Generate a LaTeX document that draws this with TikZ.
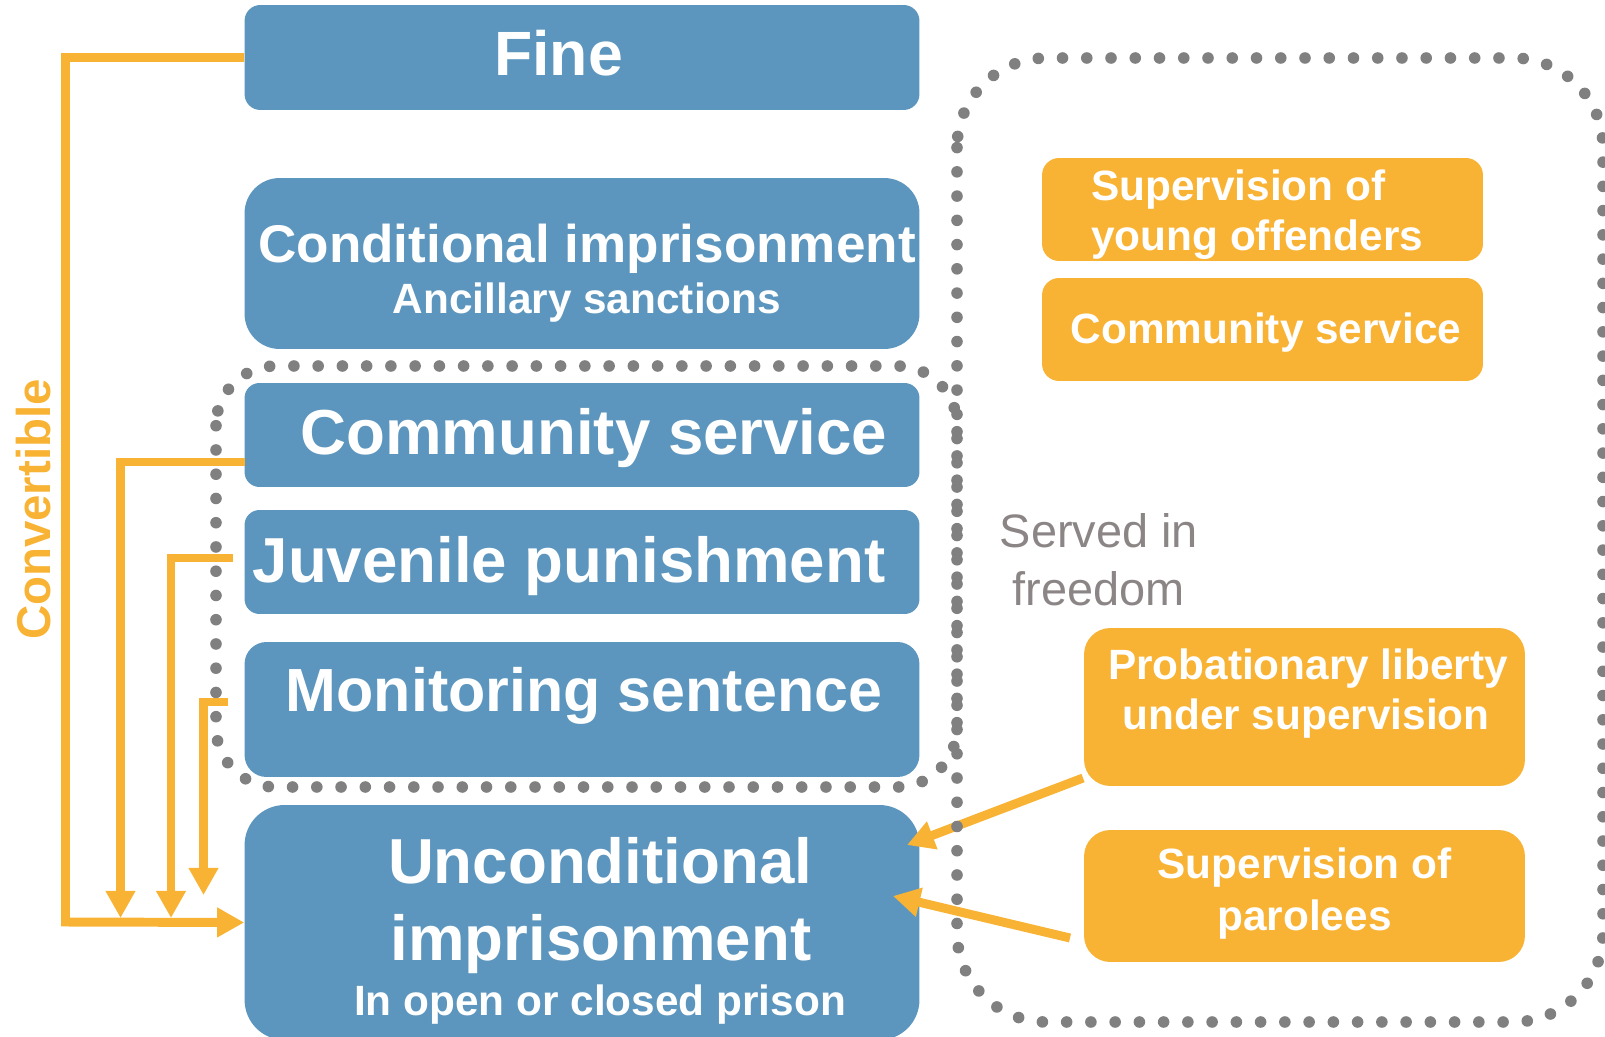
\documentclass[tikz,border=0pt]{standalone}
\usepackage{fontspec}
\setmainfont{Liberation Sans}
\usetikzlibrary{arrows.meta}

\definecolor{penblue}{RGB}{92,150,190}
\definecolor{penorange}{RGB}{249,179,52}
\definecolor{dotgray}{RGB}{128,128,128}
\definecolor{freegray}{RGB}{139,134,133}

\tikzset{
  bluebox/.style={fill=penblue, inner sep=0pt, minimum width=13.5cm},
  orabox/.style={fill=penorange, inner sep=0pt, minimum width=8.82cm},
  bigtxt/.style={text=white, inner sep=0pt, anchor=base, font=\bfseries\fontsize{36.2pt}{40pt}\selectfont},
  subtxt/.style={text=white, inner sep=0pt, anchor=base, font=\bfseries\fontsize{24.1pt}{28pt}\selectfont},
  freetxt/.style={text=freegray, inner sep=0pt, anchor=base, font=\fontsize{26.7pt}{32pt}\selectfont},
  convline/.style={draw=penorange, line width=5.1pt},
  convarrow/.style={convline, -{Triangle[length=15.4pt, width=16pt]}},
  dotframe/.style={draw=dotgray, line width=6.6pt, line cap=round, dash pattern=on 0pt off 13.8pt},
}

\begin{document}
\begin{tikzpicture}[x=0.02cm, y=-0.02cm]
\useasboundingbox (0,0) rectangle (1605,1037);

% 1. Les cases bleues (peines)
\node[bluebox, minimum height=2.1cm, rounded corners=9pt] (fine) at (582,57.5) {};
\node[bluebox, minimum height=3.42cm, rounded corners=20pt] (condimp) at (582,263.5) {};
\node[bluebox, minimum height=2.08cm, rounded corners=8.5pt] (commsrv) at (582,435) {};
\node[bluebox, minimum height=2.08cm, rounded corners=8.5pt] (juvpun) at (582,562) {};
\node[bluebox, minimum height=2.7cm, rounded corners=12.5pt] (monsent) at (582,709.5) {};
\node[bluebox, minimum height=4.7cm, rounded corners=22.8pt] (uncond) at (582,922.5) {};

\node[bigtxt, font=\bfseries\fontsize{35.6pt}{40pt}\selectfont] (t-fine) at (558.5,76) {Fine};
\node[bigtxt, font=\bfseries\fontsize{30.2pt}{34pt}\selectfont] (t-cond) at (587,262) {Conditional imprisonment};
\node[subtxt] (t-anc) at (587,313) {Ancillary sanctions};
\node[bigtxt] (t-cs) at (594,454) {Community service};
\node[bigtxt] (t-juv) at (569,582) {Juvenile punishment};
\node[bigtxt, font=\bfseries\fontsize{34.7pt}{40pt}\selectfont] (t-mon) at (584,711) {Monitoring sentence};
\node[bigtxt] (t-unc1) at (600,883) {Unconditional};
\node[bigtxt] (t-unc2) at (601,960) {imprisonment};
\node[subtxt] (t-unc3) at (600,1015) {In open or closed prison};

% 2. Les cases orange (en liberte)
\node[orabox, minimum height=2.06cm, rounded corners=9.7pt] (supyoung) at (1262.5,209.5) {};
\node[orabox, minimum height=2.06cm, rounded corners=9.7pt] (commfree) at (1262.5,329.5) {};
\node[orabox, minimum height=3.16cm, rounded corners=15pt] (problib) at (1304.5,707) {};
\node[orabox, minimum height=2.64cm, rounded corners=15pt] (supparole) at (1304.5,896) {};

\node[subtxt, anchor=base west] (t-sy1) at (1091,201) {Supervision of};
\node[subtxt, anchor=base west] (t-sy2) at (1091,251) {young offenders};
\node[subtxt] (t-cf) at (1266,343) {Community service};
\node[subtxt] (t-pl1) at (1308,679) {Probationary liberty};
\node[subtxt] (t-pl2) at (1306,729) {under supervision};
\node[subtxt] (t-sp1) at (1304.5,878) {Supervision of};
\node[subtxt] (t-sp2) at (1304.5,930) {parolees};

\node[freetxt] (t-free1) at (1099,547) {Served in};
\node[freetxt] (t-free2) at (1098.5,605) {freedom};

% 3. Fleches vers l'emprisonnement
\coordinate (pl-out) at (1083,778);
\coordinate (pl-in) at (907,845);
\coordinate (sp-out) at (1070,938);
\coordinate (sp-in) at (893,896);
\draw[convarrow] (pl-out) -- (pl-in);
\draw[convarrow] (sp-out) -- (sp-in);

% 4. Cadres en pointilles
\draw[dotframe, rounded corners=51pt] (957,58) rectangle (1603,1022);
\draw[dotframe, rounded corners=34pt] (216,366) rectangle (957,787);

% 5. Conversion (a gauche)
\node[rotate=90, anchor=base, inner sep=0pt, text=penorange,
      font=\bfseries\fontsize{27pt}{30pt}\selectfont] (convlabel) at (51,509.5) {Convertible};

\coordinate (fine-bend) at (65.5,922);
\draw[convarrow] (fine.west) -| (fine-bend) -- (uncond.west);

\coordinate (cs-out) at (244.5,462);
\coordinate (cs-in) at (120.5,918);
\coordinate (juv-out) at (233,558);
\coordinate (juv-in) at (171,918);
\coordinate (mon-out) at (228,702);
\coordinate (mon-in) at (203.5,895);
\draw[convarrow] (cs-out) -| (cs-in);
\draw[convarrow] (juv-out) -| (juv-in);
\draw[convarrow] (mon-out) -| (mon-in);
\end{tikzpicture}
\end{document}
